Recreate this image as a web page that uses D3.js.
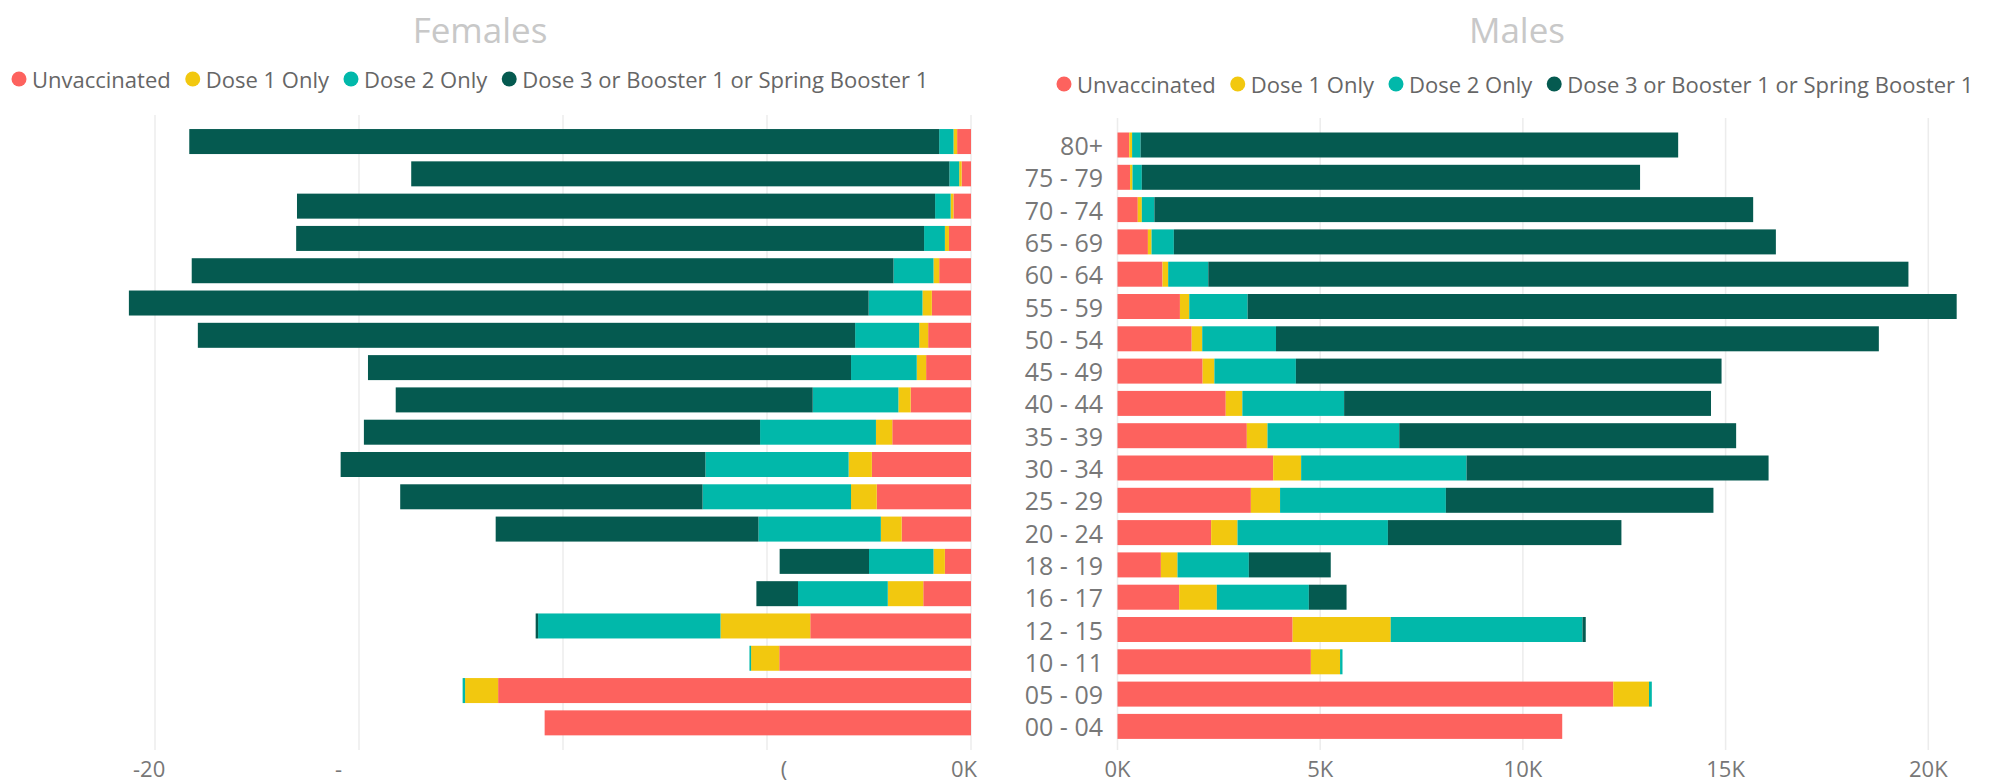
<!DOCTYPE html>
<html lang="en">
<head>
	<meta charset="UTF-8">
	<title>Vaccination status by age and sex</title>
	<script src="https://d3js.org/d3.v7.min.js"></script>
	<style>
		body { margin: 0; background: #fff; }
		text { font-family: "Segoe UI", "Open Sans", sans-serif; }
	</style>
</head>
<body>
	<svg id="chart" width="2002" height="784"></svg>
	<script>
		// data
		const ageGroups = ["80+", "75 - 79", "70 - 74", "65 - 69", "60 - 64", "55 - 59", "50 - 54", "45 - 49", "40 - 44",
			"35 - 39", "30 - 34", "25 - 29", "20 - 24", "18 - 19", "16 - 17", "12 - 15", "10 - 11", "05 - 09", "00 - 04"];
		const seriesNames = ["Unvaccinated", "Dose 1 Only", "Dose 2 Only", "Dose 3 or Booster 1 or Spring Booster 1"];
		const seriesColors = ["#fd625e", "#f2c80f", "#01b8aa", "#055a50"];

		const femaleUnvaccinated = [340, 230, 430, 540, 780, 960, 1050, 1100, 1480, 1930, 2430, 2310, 1700, 640, 1170, 3940, 4700, 11590, 10450];
		const femaleDose1 = [90, 60, 70, 100, 140, 230, 220, 230, 300, 400, 570, 630, 510, 280, 870, 2200, 690, 810, 0];
		const femaleDose2 = [350, 240, 380, 510, 980, 1320, 1570, 1610, 2100, 2840, 3510, 3640, 3000, 1580, 2200, 4470, 40, 60, 0];
		const femaleDose3 = [18380, 13190, 15640, 15390, 17200, 18130, 16110, 11840, 10220, 9710, 8940, 7410, 6440, 2190, 1020, 60, 0, 0, 0];

		const maleUnvaccinated = [290, 310, 500, 750, 1110, 1540, 1830, 2100, 2670, 3190, 3840, 3290, 2310, 1070, 1520, 4320, 4770, 12230, 10970];
		const maleDose1 = [70, 60, 100, 90, 140, 230, 260, 290, 410, 510, 690, 720, 650, 410, 930, 2420, 720, 880, 0];
		const maleDose2 = [210, 230, 310, 550, 990, 1440, 1820, 2010, 2510, 3250, 4080, 4090, 3710, 1760, 2270, 4730, 60, 70, 0];
		const maleDose3 = [13260, 12290, 14770, 14850, 17270, 17490, 14870, 10500, 9050, 8310, 7450, 6600, 5760, 2020, 930, 80, 0, 0, 0];

		// the female axis labels are partly hidden in the original, only these bits show
		const femaleTicks = [-20000, -15000, -10000, -5000, 0];
		const femaleTickLabels = ["-20", "-", "", "(", "0K"];
		const maleTicks = [0, 5000, 10000, 15000, 20000];

		const svg = d3.select("#chart");

		function buildRows(series) {
			return ageGroups.map((age, i) => {
				let cumulative = 0;
				const segs = series.map((s, k) => {
					const seg = { key: k, x0: cumulative, x1: cumulative + s[i] };
					cumulative += s[i];
					return seg;
				});
				return { age, segs };
			});
		}

		function drawLegend(x, y) {
			const g = svg.append("g").attr("transform", "translate(" + x + "," + y + ")");
			let offset = 0;
			seriesNames.forEach((name, k) => {
				const item = g.append("g").attr("transform", "translate(" + offset + ",0)");
				item.append("circle").attr("cx", 7.5).attr("cy", 0).attr("r", 7.5).attr("fill", seriesColors[k]);
				const t = item.append("text")
					.attr("x", 20.5).attr("y", 0)
					.attr("dominant-baseline", "central")
					.attr("fill", "#666")
					.style("font-size", "22px")
					.text(name);
				offset += 20.5 + t.node().getComputedTextLength() + 14.5;
			});
		}

		function drawTitle(x, label) {
			svg.append("text")
				.attr("x", x).attr("y", 29)
				.attr("text-anchor", "middle").attr("dominant-baseline", "central")
				.attr("fill", "#c8c8c8").style("font-size", "35px")
				.text(label);
		}

		// ---- Females (left, mirrored) ----
		const femaleRows = buildRows([femaleUnvaccinated, femaleDose1, femaleDose2, femaleDose3]);

		const xF = d3.scaleLinear().domain([-20000, 0]).range([155, 971]);
		const yF = d3.scaleBand().domain(ageGroups).range([125.4, 739]).paddingInner(0.226).paddingOuter(0.113);

		svg.append("g").selectAll("line")
			.data(femaleTicks)
			.enter().append("line")
			.attr("x1", d => xF(d)).attr("x2", d => xF(d))
			.attr("y1", 115).attr("y2", 750)
			.attr("stroke", "#ececec").attr("stroke-width", 1.5);

		const fRow = svg.append("g").selectAll("g")
			.data(femaleRows)
			.enter().append("g")
			.attr("transform", d => "translate(0," + yF(d.age) + ")");

		fRow.selectAll("rect")
			.data(d => d.segs.filter(s => s.x1 > s.x0))
			.enter().append("rect")
			.attr("x", s => xF(-s.x1))
			.attr("width", s => xF(-s.x0) - xF(-s.x1))
			.attr("height", yF.bandwidth())
			.attr("fill", s => seriesColors[s.key]);

		// label nudges so the visible fragments sit where they do in the original
		const femaleNudge = [-22, -24, 0, 17, -7];
		svg.append("g").selectAll("text")
			.data(femaleTicks)
			.enter().append("text")
			.attr("x", (d, i) => xF(d) + femaleNudge[i])
			.attr("y", 777)
			.attr("text-anchor", (d, i) => i < 2 ? "start" : "middle")
			.attr("fill", "#777")
			.style("font-size", "22px")
			.text((d, i) => femaleTickLabels[i]);

		drawTitle(480, "Females");
		drawLegend(11.5, 79);

		// ---- Males (right) ----
		const maleRows = buildRows([maleUnvaccinated, maleDose1, maleDose2, maleDose3]);

		const xM = d3.scaleLinear().domain([0, 20000]).range([1117.5, 1928.3]);
		const yM = d3.scaleBand().domain(ageGroups).range([128.85, 742.55]).paddingInner(0.226).paddingOuter(0.113);

		svg.append("g").selectAll("line")
			.data(maleTicks)
			.enter().append("line")
			.attr("x1", d => xM(d)).attr("x2", d => xM(d))
			.attr("y1", 118).attr("y2", 750)
			.attr("stroke", "#ececec").attr("stroke-width", 1.5);

		const mRow = svg.append("g").selectAll("g")
			.data(maleRows)
			.enter().append("g")
			.attr("transform", d => "translate(0," + yM(d.age) + ")");

		mRow.selectAll("rect")
			.data(d => d.segs.filter(s => s.x1 > s.x0))
			.enter().append("rect")
			.attr("x", s => xM(s.x0))
			.attr("width", s => xM(s.x1) - xM(s.x0))
			.attr("height", yM.bandwidth())
			.attr("fill", s => seriesColors[s.key]);

		// category axis
		svg.append("g").selectAll("text")
			.data(ageGroups)
			.enter().append("text")
			.attr("x", 1103)
			.attr("y", d => yM(d) + yM.bandwidth() / 2)
			.attr("text-anchor", "end")
			.attr("dominant-baseline", "central")
			.attr("fill", "#777")
			.style("font-size", "25px")
			.text(d => d);

		svg.append("g").selectAll("text")
			.data(maleTicks)
			.enter().append("text")
			.attr("x", d => xM(d))
			.attr("y", 777)
			.attr("text-anchor", "middle")
			.attr("fill", "#777")
			.style("font-size", "22px")
			.text(d => d3.format("d")(d / 1000) + "K");

		drawTitle(1517, "Males");
		drawLegend(1056.5, 84);
	</script>
</body>
</html>
